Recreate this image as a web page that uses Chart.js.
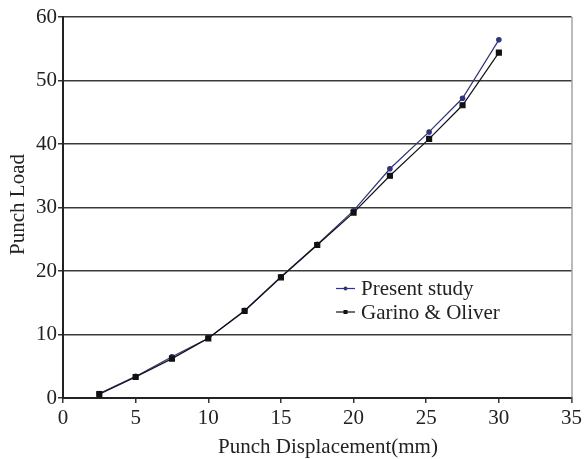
<!DOCTYPE html>
<html>
<head>
<meta charset="utf-8">
<script src="https://cdn.jsdelivr.net/npm/chart.js@4/dist/chart.umd.min.js"></script>
<style>
  html, body { margin: 0; padding: 0; background: #fff; }
  #wrap { width: 585px; height: 459px; position: relative; }
</style>
</head>
<body>
<div id="wrap"><canvas id="chart"></canvas></div>
<script>
const displacement = [2.5, 5, 7.5, 10, 12.5, 15, 17.5, 20, 22.5, 25.2, 27.5, 30];
const presentStudy = [0.7, 3.4, 6.5, 9.4, 13.8, 19.1, 24.2, 29.5, 36.1, 41.9, 47.2, 56.4];
const garinoOliver = [0.6, 3.3, 6.2, 9.4, 13.7, 19.0, 24.1, 29.2, 35.0, 40.8, 46.1, 54.4];
const seriesNames = ['Present study', 'Garino & Oliver'];
const xTitle = 'Punch Displacement(mm)';
const yTitle = 'Punch Load';

const navy = '#2f3577';
const serif = "'Liberation Serif', 'DejaVu Serif', serif";

const toPoints = (ys) => displacement.map((x, i) => ({x: x, y: ys[i]}));

// legend sits inside the plot area, x title is a bit right of centre in the original
const extras = {
    id: 'extras',
    afterDraw(chart) {
        const c = chart.ctx;
        const a = chart.chartArea;
        const items = [
            {label: seriesNames[0], color: navy, style: 'circle'},
            {label: seriesNames[1], color: '#111', style: 'rect'}
        ];
        c.save();
        c.font = '21px ' + serif;
        c.textBaseline = 'middle';
        items.forEach((it, i) => {
            const y = 288.5 + i * 23.5;
            c.strokeStyle = it.color;
            c.lineWidth = 1.2;
            c.beginPath();
            c.moveTo(336, y);
            c.lineTo(355, y);
            c.stroke();
            c.fillStyle = it.color;
            if (it.style === 'circle') {
                c.beginPath();
                c.arc(345.5, y, 2, 0, Math.PI * 2);
                c.fill();
            } else {
                c.fillRect(343.5, y - 2, 4, 4);
            }
            c.fillStyle = '#222';
            c.fillText(it.label, 361, y + 1);
        });

        // axis titles
        c.textAlign = 'center';
        c.fillText(xTitle, 328, 447);
        c.translate(18, (a.top + a.bottom) / 2 - 3);
        c.rotate(-Math.PI / 2);
        c.fillText(yTitle, 0, 0);
        c.setTransform(1, 0, 0, 1, 0, 0);

        // right border of the plot
        c.strokeStyle = '#777';
        c.lineWidth = 1;
        c.beginPath();
        c.moveTo(a.right + 0.5, a.top);
        c.lineTo(a.right + 0.5, a.bottom + 5);
        c.stroke();
        c.restore();
    }
};

new Chart(document.getElementById('chart'), {
    type: 'scatter',
    data: {
        datasets: [{
            label: seriesNames[0],
            data: toPoints(presentStudy),
            showLine: true,
            borderColor: navy,
            backgroundColor: navy,
            borderWidth: 1.2,
            pointStyle: 'circle',
            pointRadius: 2.2,
            order: 1
        }, {
            label: seriesNames[1],
            data: toPoints(garinoOliver),
            showLine: true,
            borderColor: '#111',
            backgroundColor: '#111',
            borderWidth: 1.2,
            pointStyle: 'rect',
            pointRadius: 3.5,
            order: 0
        }]
    },
    options: {
        responsive: true,
        maintainAspectRatio: false,
        animation: false,
        layout: { padding: { top: 17, right: 13, left: 0, bottom: 0 } },
        plugins: {
            legend: { display: false },
            tooltip: { enabled: false }
        },
        scales: {
            x: {
                type: 'linear',
                min: 0,
                max: 35,
                afterFit: (s) => { s.height = 61; },
                ticks: { stepSize: 5, color: '#222', padding: 3, font: { family: serif, size: 21 } },
                grid: { drawOnChartArea: false, tickLength: 5, tickColor: '#333', lineWidth: 1.5 },
                border: { color: '#222', width: 2 }
            },
            y: {
                min: 0,
                max: 60,
                afterFit: (s) => { s.width = 63; },
                ticks: { stepSize: 10, color: '#222', padding: 1, font: { family: serif, size: 21 } },
                grid: { color: '#3a3a3a', lineWidth: 1.5, tickLength: 5, tickColor: '#333' },
                border: { color: '#222', width: 2 }
            }
        }
    },
    plugins: [extras]
});
</script>
</body>
</html>
